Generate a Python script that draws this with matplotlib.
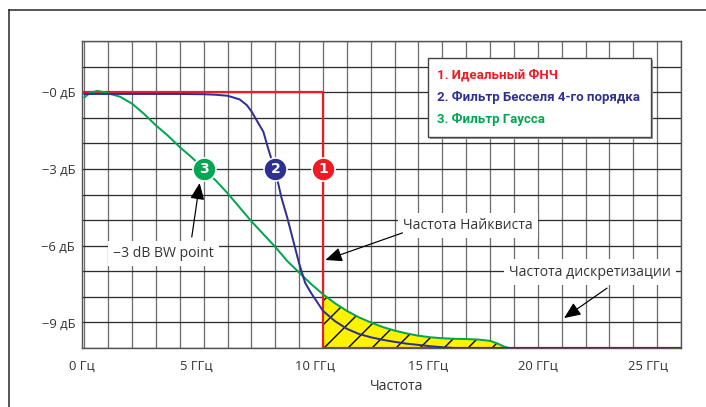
import numpy as np
import matplotlib
matplotlib.use("Agg")
import matplotlib.pyplot as plt
from matplotlib.lines import Line2D
from matplotlib.patches import Rectangle

# Данные (частота в ГГц, уровень в дБ)
ideal_x = [0, 10, 10, 25]
ideal_y = [0, 0, -10, -10]

bessel_x = [0, 1, 2, 3, 4, 5, 5.5, 6.0, 6.5, 6.8, 7.0, 7.25, 7.5, 7.7, 7.85, 8.0,
            8.25, 8.5, 8.75, 9.0, 9.25, 9.5, 9.75, 10.0, 10.5, 11.0, 11.5, 12.0,
            12.5, 13.0, 13.5, 14.0, 14.5, 15.0, 15.5, 25]
bessel_y = [-0.07, -0.07, -0.07, -0.07, -0.07, -0.08, -0.1, -0.14, -0.28, -0.5,
            -0.75, -1.15, -1.55, -2.2, -2.65, -3.05, -4.1, -4.9, -5.8, -6.7,
            -7.45, -7.85, -8.2, -8.55, -8.95, -9.25, -9.45, -9.58, -9.68, -9.76,
            -9.83, -9.88, -9.93, -9.97, -10.0, -10.0]

gauss_x = [0.0, 0.25, 0.55, 0.9, 1.2, 1.5, 2.0, 2.5, 3.0, 3.5, 4.0, 4.5, 5.0, 5.5,
           6.0, 6.5, 7.0, 7.5, 8.0, 8.5, 9.0, 9.5, 10.0, 10.5, 11.0, 11.5, 12.0,
           12.5, 13.0, 13.5, 14.0, 14.5, 15.0, 15.5, 16.0, 16.5, 17.0, 17.3,
           17.6, 17.8, 25.0]
gauss_y = [-0.2, -0.02, 0.05, -0.02, -0.1, -0.18, -0.45, -0.85, -1.3, -1.7, -2.15,
           -2.55, -3.0, -3.45, -3.95, -4.5, -5.05, -5.55, -6.05, -6.6, -7.05,
           -7.5, -7.9, -8.25, -8.55, -8.8, -9.0, -9.18, -9.32, -9.43, -9.52,
           -9.58, -9.62, -9.64, -9.65, -9.67, -9.72, -9.82, -9.95, -10.0, -10.0]

# Точки -3 дБ (маркеры)
mark_x = [10, 8.0, 5.0]
mark_y = [-3, -3, -3]
mark_num = ["1", "2", "3"]

xtick_labels = ["0 Гц", "5 ГГц", "10 ГГц", "15 ГГц", "20 ГГц", "25 ГГц"]
xtick_pos = [-0.1, 4.7, 9.67, 14.4, 19.0, 23.6]
ytick_vals = [0, -3, -6, -9]
ytick_labels = ["−0 дБ", "−3 дБ", "−6 дБ", "−9 дБ"]

legend_texts = ["1. Идеальный ФНЧ", "2. Фильтр Бесселя 4-го порядка", "3. Фильтр Гаусса"]

red = "#ed1c24"
blue = "#2e3192"
green = "#00a651"
yellow = "#fff200"
colors = [red, blue, green]

plt.rcParams["font.family"] = ["Open Sans", "DejaVu Sans"]
plt.rcParams["hatch.linewidth"] = 0.7

DPI = 144
fig = plt.figure(figsize=(706 / DPI, 407 / DPI), dpi=DPI)
ax = fig.add_axes([82 / 706, 1 - 348 / 407, 599 / 706, 307 / 407])

ax.set_xlim(0, 25)
ax.set_ylim(-10, 2)

# Сетка
ax.set_xticks(np.arange(0, 26, 1), minor=True)
ax.set_yticks(np.arange(-10, 3, 1), minor=True)
ax.xaxis.remove_overlapping_locs = False
ax.yaxis.remove_overlapping_locs = False
ax.grid(which="minor", axis="x", color="#6e6e6e", linewidth=0.65)
ax.grid(which="minor", axis="y", color="#2e2e2e", linewidth=0.65)
ax.grid(which="major", visible=False)
ax.set_axisbelow(True)

ax.set_xticks(xtick_pos)
ax.set_xticklabels(xtick_labels)
ax.set_yticks(ytick_vals)
ax.set_yticklabels(ytick_labels)
ax.tick_params(which="both", length=0)
ax.tick_params(axis="x", pad=6, labelsize=6.5, labelcolor="#333333")
ax.tick_params(axis="y", pad=3.5, labelsize=6.5, labelcolor="#333333")

for s in ax.spines.values():
    s.set_color("#555555")
    s.set_linewidth(0.7)

# Заливка за частотой Найквиста
gx = np.array(gauss_x)
gy = np.array(gauss_y)
ax.fill_between(gx, gy, -10, where=gx >= 10, facecolor=yellow, edgecolor="black",
                hatch="//", linewidth=0, zorder=2)

ax.plot(ideal_x, ideal_y, color=red, lw=1.1, zorder=3)
ax.plot(gauss_x, gauss_y, color=green, lw=1.0, zorder=4)
ax.plot(bessel_x, bessel_y, color=blue, lw=1.0, zorder=5)

# Маркеры
for mx, my, num, c in zip(mark_x, mark_y, mark_num, colors):
    ax.plot(mx, my, "o", ms=11.5, color=c, mec="white", mew=0.8, zorder=6)
    ax.text(mx, my - 0.02, num, color="white", fontsize=7, fontweight="bold",
            family="DejaVu Sans", ha="center", va="center", zorder=7)

# Подписи со стрелками
box = dict(facecolor="white", edgecolor="none", pad=2.5)
arrow = dict(arrowstyle="-|>,head_length=0.7,head_width=0.3", color="black", lw=0.6,
             shrinkA=0, shrinkB=0)
ax.text(3.33, -6.29, "−3 dB BW point", fontsize=7, color="#333333", ha="center",
        va="center", bbox=box, zorder=8)
ax.annotate("", xy=(4.83, -3.55), xytext=(4.5, -5.66), arrowprops=arrow, zorder=8)

ax.text(16.06, -5.2, "Частота Найквиста", fontsize=7, color="#333333", ha="center",
        va="center", bbox=box, zorder=8)
ax.annotate("", xy=(10.1, -6.56), xytext=(13.33, -5.5), arrowprops=arrow, zorder=8)

ax.text(21.17, -7.03, "Частота дискретизации", fontsize=7, color="#333333",
        ha="center", va="center", bbox=box, zorder=8)
ax.annotate("", xy=(20.1, -8.83), xytext=(21.9, -7.66), arrowprops=arrow, zorder=8)

# Подпись оси X
fig.text(397 / 706, 1 - 387 / 407, "Частота", fontsize=7, color="#333333",
         ha="center", va="center")

# Легенда
fig.add_artist(Rectangle((430 / 706, 1 - 139 / 407), 223 / 706, 79 / 407,
                         transform=fig.transFigure, facecolor="#9a9a9a",
                         edgecolor="none", zorder=9))
fig.add_artist(Rectangle((428 / 706, 1 - 137 / 407), 223 / 706, 79 / 407,
                         transform=fig.transFigure, facecolor="white",
                         edgecolor="#444444", linewidth=0.7, zorder=10))
for i, (t, c) in enumerate(zip(legend_texts, colors)):
    fig.text(437 / 706, 1 - (75 + 22.5 * i) / 407, t, color=c, fontsize=6.6,
             fontweight="bold", family=["Roboto", "DejaVu Sans"],
             ha="left", va="center", zorder=11)

# Рамка рисунка
fig.add_artist(Line2D([9 / 706, 1], [1 - 10 / 407, 1 - 10 / 407],
                      transform=fig.transFigure, color="#222222", lw=0.75))
fig.add_artist(Line2D([9 / 706, 9 / 706], [1 - 10 / 407, 0],
                      transform=fig.transFigure, color="#222222", lw=0.75))

fig.savefig("out.png", dpi=DPI)
